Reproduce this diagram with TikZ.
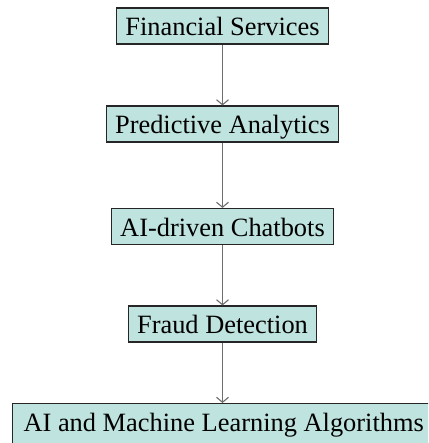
\documentclass[tikz,border=0pt]{standalone}
\usepackage{fontspec}
\setmainfont{Liberation Serif}
\usetikzlibrary{arrows.meta}
\definecolor{boxfill}{rgb}{0.75,0.89,0.87}
\definecolor{linkgray}{rgb}{0.43,0.43,0.43}
\tikzset{
  stage/.style={draw=black!85, line width=1.1pt, fill=boxfill,
    font=\fontsize{26.4pt}{30pt}\selectfont,
    inner xsep=9pt, inner ysep=0pt, text height=27.5pt, text depth=8.5pt},
  link/.style={draw=linkgray, line width=1.3pt,
    -{Straight Barb[length=5pt,width=12pt,line width=1.1pt]}}
}
\begin{document}
\begin{tikzpicture}[x=1pt,y=1pt]
  \fill[white] (0,0) rectangle (428,-443);
  \path[use as bounding box] (0,0) rectangle (428,-443);
  \begin{scope}
    \clip (0,0) rectangle (428,-443);
    \node[stage] (fs) at (222.5,-26) {Financial Services};
    \node[stage] (pa) at (222.5,-124) {Predictive Analytics};
    \node[stage] (cb) at (222.5,-226.5) {AI-driven Chatbots};
    \node[stage] (fd) at (222.5,-324) {Fraud Detection};
    \node[stage, anchor=north west, inner xsep=11pt, text depth=14pt]
      (ml) at (12,-403) {AI and Machine Learning Algorithms\hspace{12pt}};
    \draw[link] (fs.south) -- (pa.north);
    \draw[link] (pa.south) -- (cb.north);
    \draw[link] (cb.south) -- (fd.north);
    \draw[link] (fd.south) -- (fd.south |- ml.north);
  \end{scope}
\end{tikzpicture}
\end{document}
